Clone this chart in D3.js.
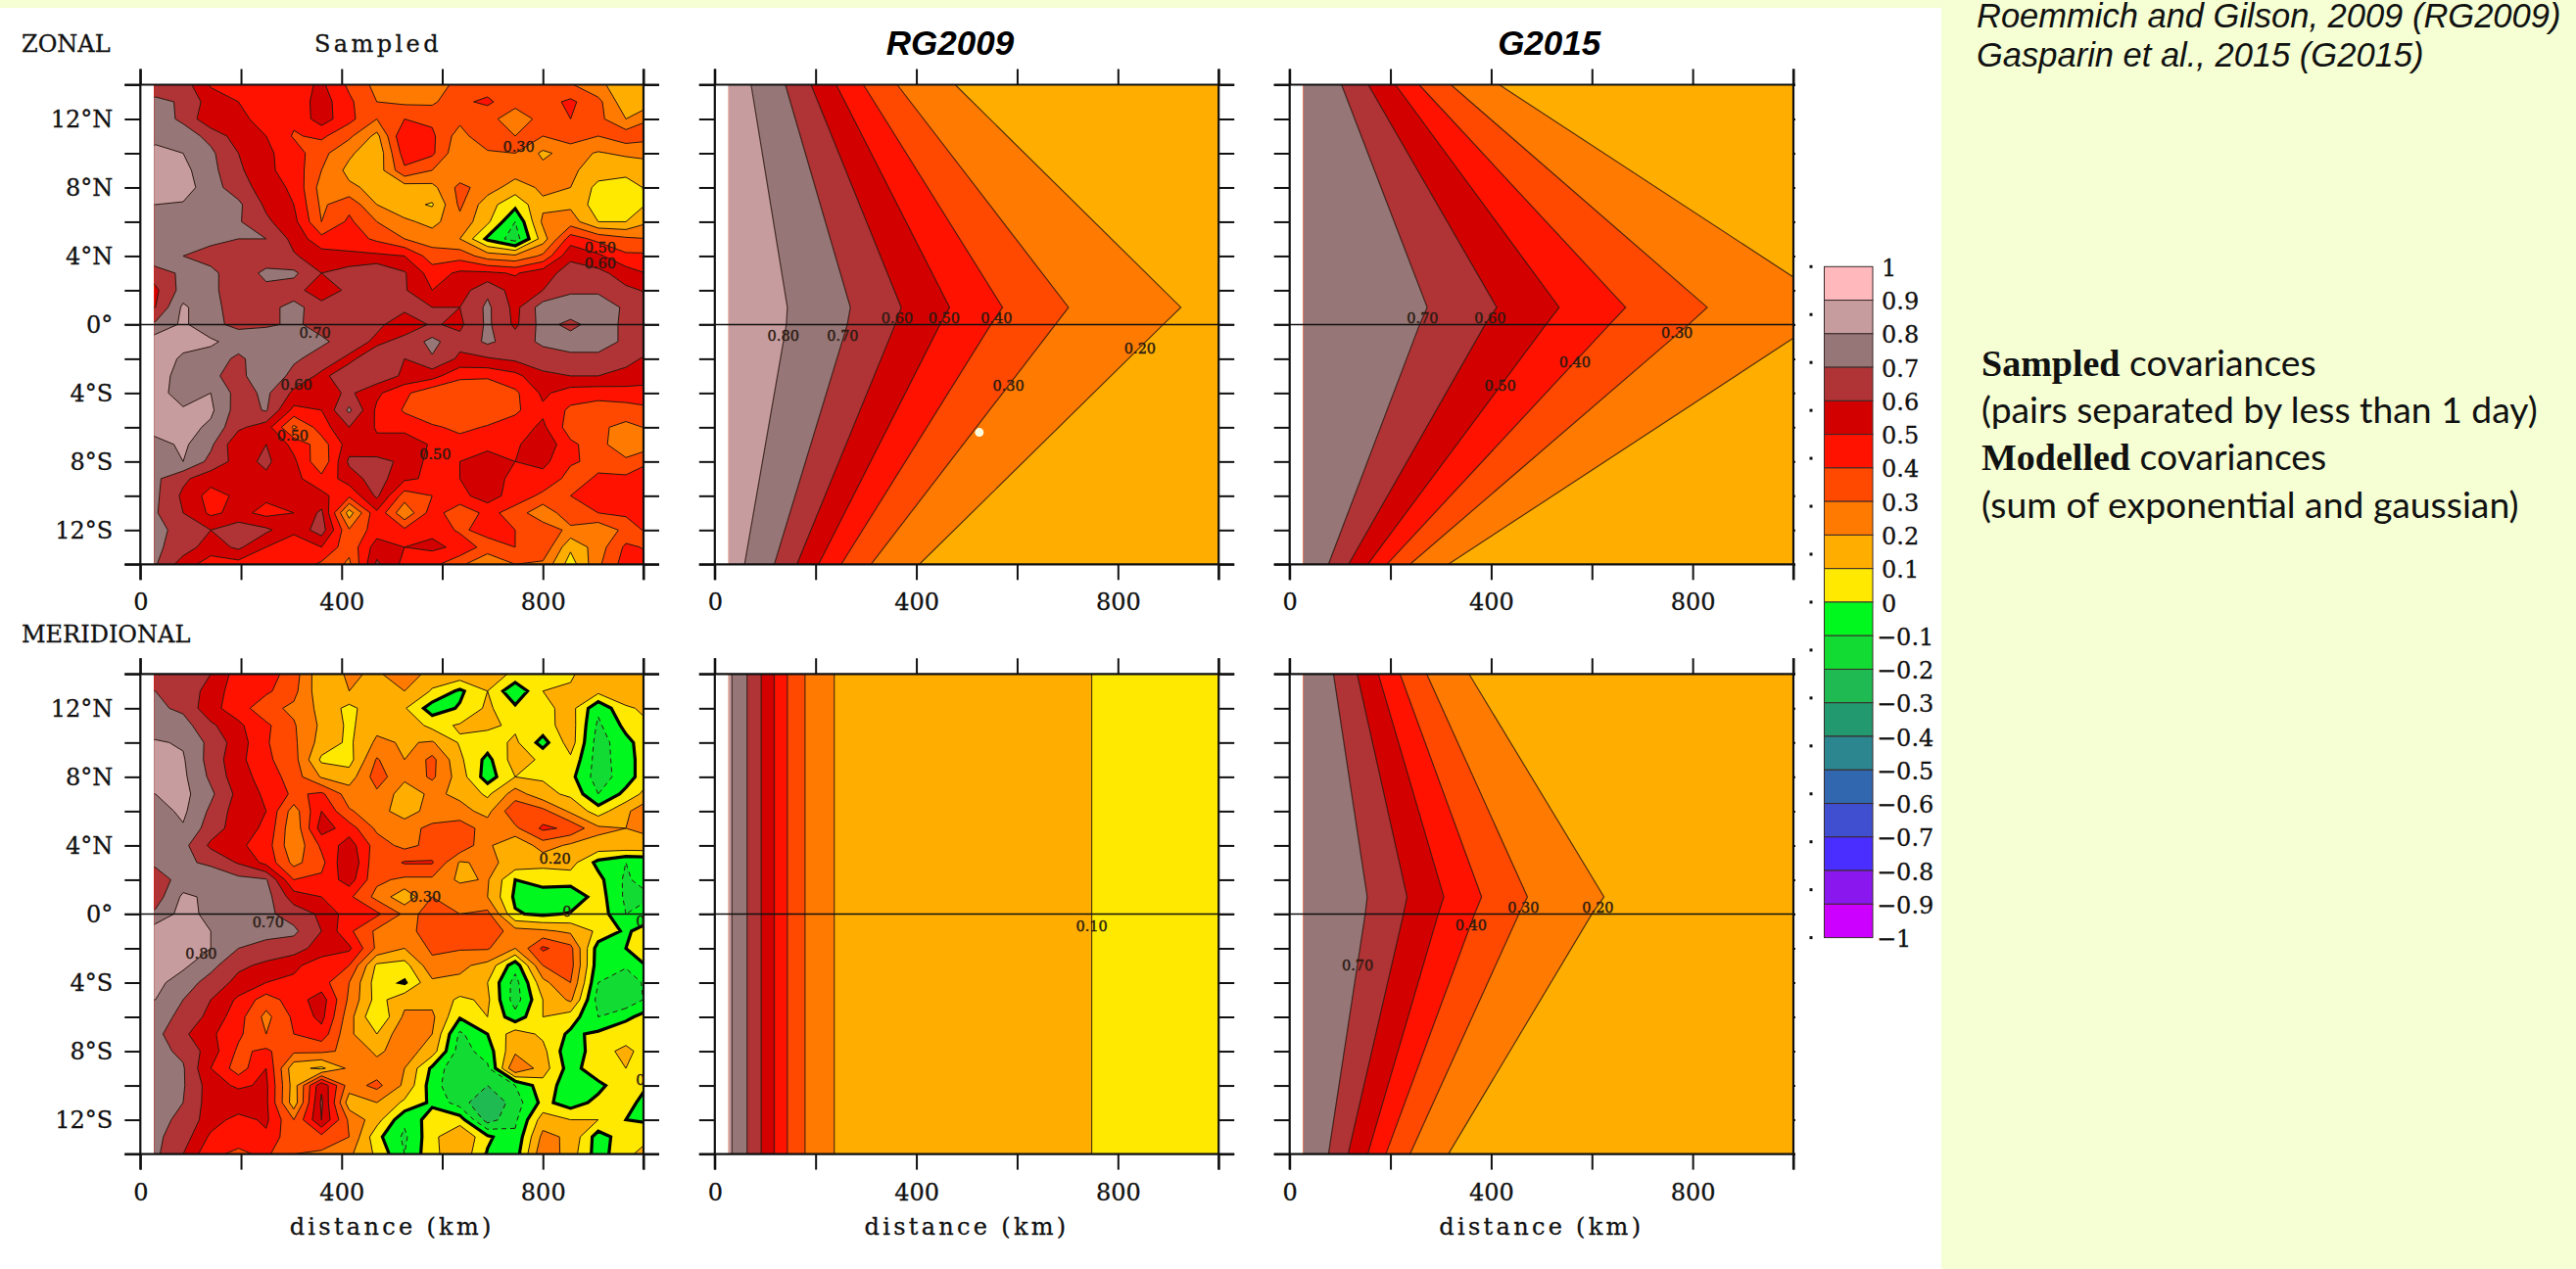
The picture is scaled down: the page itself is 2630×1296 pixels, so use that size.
<!DOCTYPE html>
<html>
<head>
<meta charset="utf-8">
<script src="https://cdn.jsdelivr.net/npm/d3@7"></script>
<style>
  html, body { margin: 0; padding: 0; background: #f5ffd3; overflow: hidden; }
  svg { display: block; }
  text { font-family: "DejaVu Serif", serif; fill: #111; }
  .axis path.domain { display: none; }
  .axis line { stroke: #111; stroke-width: 2px; }
  .axis text { font-family: "DejaVu Serif", serif; font-size: 24px; fill: #111; stroke: #111; stroke-width: .3px; }
  .plot-text { stroke: #111; stroke-width: .3px; }
</style>
</head>
<body>
<div id="chart"></div>
<script>
var width = 2630,
    height = 1296;

// sampled grids: one row per latitude from 14N to 14S, one value per distance bin
var gridDistances = [30, 85, 140, 195, 250, 305, 360, 415, 470, 525, 580, 635, 690, 745, 800, 855, 910, 965, 1020];
var gridLats = [14, 13, 12, 11, 10, 9, 8, 7, 6, 5, 4, 3, 2, 1, 0, -1, -2, -3, -4, -5, -6, -7, -8, -9, -10, -11, -12, -13, -14];

var zonalSampled = [
  [.65, .65, .49, .45, .45, .45, .52, .38, .27, .25, .25, .33, .35, .33, .33, .31, .22, .15, .20],
  [.72, .69, .55, .50, .45, .43, .55, .42, .30, .28, .28, .38, .42, .33, .36, .42, .33, .13, .18],
  [.75, .68, .52, .52, .47, .42, .55, .43, .30, .40, .38, .33, .33, .25, .33, .40, .33, .20, .30],
  [.78, .75, .67, .55, .50, .39, .42, .32, .17, .50, .42, .25, .40, .30, .30, .35, .30, .36, .33],
  [.82, .80, .72, .60, .52, .45, .33, .22, .12, .45, .42, .21, .28, .30, .18, .24, .19, .22, .22],
  [.83, .83, .73, .62, .52, .46, .30, .17, .14, .38, .30, .22, .30, .25, .23, .22, .15, .12, .17],
  [.85, .85, .74, .65, .55, .48, .26, .22, .17, .15, .17, .33, .25, .15, .22, .20, .07, .07, .12],
  [.80, .79, .72, .72, .58, .50, .28, .37, .20, .13, .09, .32, .14, .03, .18, .18, .05, .05, .12],
  [.78, .77, .73, .71, .62, .53, .30, .42, .30, .22, .17, .27, .12, -.10, .22, .25, .10, .10, .20],
  [.76, .74, .72, .70, .70, .57, .43, .45, .38, .30, .25, .20, -.02, -.15, .15, .45, .37, .32, .30],
  [.78, .70, .67, .65, .65, .61, .55, .52, .52, .50, .35, .36, .25, .22, .32, .58, .52, .42, .42],
  [.65, .72, .72, .65, .72, .72, .60, .65, .70, .61, .45, .52, .52, .49, .56, .64, .63, .55, .48],
  [.58, .74, .72, .65, .68, .65, .52, .63, .63, .61, .50, .55, .68, .55, .60, .68, .68, .62, .58],
  [.60, .82, .72, .67, .67, .73, .65, .65, .63, .62, .60, .60, .72, .57, .75, .77, .77, .68, .63],
  [.72, .82, .72, .68, .68, .72, .66, .63, .62, .55, .61, .58, .72, .58, .74, .67, .75, .68, .63],
  [.86, .84, .82, .75, .80, .76, .72, .65, .58, .63, .73, .63, .72, .65, .72, .75, .75, .68, .63],
  [.87, .78, .75, .68, .76, .72, .65, .58, .66, .60, .69, .58, .59, .62, .65, .67, .67, .62, .58],
  [.87, .74, .72, .66, .80, .66, .58, .65, .67, .58, .54, .42, .42, .47, .58, .60, .60, .58, .52],
  [.87, .72, .80, .66, .72, .58, .55, .62, .52, .42, .33, .33, .30, .38, .52, .45, .44, .45, .48],
  [.87, .82, .82, .65, .71, .47, .50, .72, .48, .39, .30, .33, .32, .38, .48, .38, .35, .36, .38],
  [.85, .84, .78, .62, .55, .28, .45, .60, .49, .45, .42, .37, .41, .45, .52, .35, .32, .27, .32],
  [.76, .82, .72, .52, .60, .47, .35, .55, .52, .60, .48, .45, .45, .48, .58, .42, .35, .20, .27],
  [.74, .80, .67, .56, .62, .52, .32, .62, .63, .58, .46, .50, .58, .50, .53, .41, .38, .33, .40],
  [.72, .62, .54, .52, .58, .53, .43, .55, .65, .52, .48, .50, .55, .47, .46, .37, .41, .42, .45],
  [.72, .58, .46, .52, .52, .50, .53, .42, .62, .35, .40, .47, .55, .45, .38, .40, .50, .45, .45],
  [.71, .60, .48, .53, .47, .50, .62, .15, .48, .22, .45, .33, .43, .36, .22, .38, .40, .42, .43],
  [.74, .65, .60, .66, .62, .53, .65, .31, .45, .42, .48, .38, .44, .40, .37, .27, .22, .33, .45],
  [.72, .65, .55, .62, .50, .42, .50, .33, .55, .50, .52, .48, .35, .40, .38, .12, .25, .42, .38],
  [.71, .55, .45, .46, .45, .47, .38, .28, .62, .47, .43, .32, .22, .30, .28, .05, .28, .45, .42]
];

var meridionalSampled = [
  [.65, .65, .60, .45, .45, .35, .12, .22, .18, .28, .15, .17, .15, .08, .01, .08, .20, .18, .18],
  [.70, .68, .55, .45, .42, .33, .13, .20, .18, .20, .09, -.02, .10, -.08, .10, .12, .13, .15, .15],
  [.72, .68, .53, .45, .33, .28, .17, .07, .17, .11, -.05, .01, .12, .02, .07, .14, -.08, .09, .12],
  [.75, .74, .62, .52, .42, .31, .18, .08, .17, .17, .07, .11, .12, .08, .06, .15, -.12, .03, .10],
  [.81, .79, .67, .55, .41, .32, .16, .08, .22, .19, .21, .09, .05, .12, -.04, .15, -.15, -.03, .08],
  [.85, .81, .66, .53, .42, .34, .08, .06, .31, .20, .33, .12, -.03, .15, .08, .08, -.15, -.04, .08],
  [.85, .82, .68, .54, .46, .35, .19, .15, .35, .22, .32, .15, -.05, .10, .09, .03, -.15, -.05, .10],
  [.80, .83, .72, .57, .48, .38, .42, .25, .28, .15, .22, .18, .08, .25, .13, .08, -.10, .03, .17],
  [.76, .82, .68, .55, .50, .25, .50, .31, .25, .14, .25, .23, .17, .38, .33, .18, .05, .18, .30],
  [.76, .79, .65, .55, .48, .22, .55, .45, .28, .27, .32, .36, .25, .28, .42, .38, .22, .20, .22],
  [.77, .73, .58, .52, .45, .22, .42, .55, .35, .27, .33, .38, .22, .11, .25, .18, .17, .18, .18],
  [.72, .72, .68, .59, .47, .27, .37, .60, .32, .41, .41, .19, .22, .17, .13, .14, -.03, -.10, -.08],
  [.65, .74, .77, .73, .71, .40, .42, .55, .32, .28, .28, .18, .21, .00, .04, .05, .03, -.12, -.02],
  [.65, .82, .78, .80, .74, .55, .50, .42, .27, .13, .30, .28, .20, -.02, -.05, -.08, .05, -.12, -.10],
  [.72, .84, .77, .74, .72, .66, .58, .45, .42, .28, .32, .30, .33, .01, -.02, .01, .06, -.10, -.05],
  [.86, .84, .80, .72, .74, .72, .60, .42, .28, .24, .38, .33, .38, .24, .22, .18, .08, -.02, .08],
  [.87, .85, .80, .70, .66, .65, .55, .52, .28, .20, .32, .31, .31, .20, .42, .33, -.05, .00, .08],
  [.85, .82, .73, .62, .58, .52, .45, .40, .08, .06, .27, .22, .17, -.06, .30, .34, -.06, -.08, .03],
  [.83, .75, .66, .57, .50, .48, .44, .30, .05, -.01, .18, .18, .10, -.14, .17, .30, -.10, -.20, -.02],
  [.80, .70, .60, .48, .35, .45, .55, .28, .06, .17, .17, .08, .12, -.15, .10, .22, -.14, -.18, -.05],
  [.75, .67, .57, .44, .27, .42, .53, .24, .00, .22, .22, .01, .10, -.06, .10, .05, -.10, -.02, .05],
  [.73, .62, .52, .42, .30, .40, .46, .22, .10, .28, .20, -.12, .00, .15, .08, -.02, .02, .06, .00],
  [.73, .68, .55, .38, .42, .32, .32, .28, .18, .25, .15, -.15, -.05, .18, .13, -.08, .07, .12, .05],
  [.72, .71, .50, .35, .50, .13, .08, .22, .24, .20, -.02, -.20, -.12, .30, .15, -.05, .08, .10, .02],
  [.71, .71, .55, .48, .52, .15, .58, .25, .33, .18, -.05, -.20, -.20, -.10, .06, -.06, -.03, .08, -.02],
  [.71, .70, .55, .58, .52, .14, .62, .14, .20, .08, -.02, -.15, -.30, -.15, .03, -.05, .03, .03, -.05],
  [.74, .67, .55, .46, .52, .30, .60, .28, .14, -.08, .05, .05, -.25, -.12, .15, .10, .10, .00, -.03],
  [.72, .65, .48, .44, .48, .32, .37, .30, .03, -.12, .07, .20, .02, -.08, .23, .18, -.05, .06, .10],
  [.72, .60, .42, .38, .42, .30, .28, .22, .08, -.10, .07, .18, -.01, -.05, .28, .15, -.05, .08, .15]
];

// modelled contours: distance (km) where each level crosses 14N, 1N, 0, 14S
var modelLats = [14, 1, 0, -14];
var modelLevels = [.8, .7, .6, .5, .4, .3, .2, .1];
var rgZonal = [[72, 144, 142, 59], [140, 269, 263, 118], [191, 370, 358, 163], [241, 466, 447, 206], [295, 571, 548, 251], [362, 702, 676, 310], [477, 925, 890, 406]];
var g2015Zonal = [null, [103, 273, 258, 77], [156, 411, 388, 117], [210, 535, 509, 155], [257, 667, 635, 193], [320, 829, 792, 239], [416, 1092, 1041, 315]];
var rgMeridional = [[34, 34, 34, 34], [64, 64, 64, 64], [92, 92, 92, 92], [118, 118, 118, 118], [144, 144, 144, 144], [179, 179, 179, 179], [237, 237, 237, 237], [748, 748, 748, 748]];
var g2015Meridional = [null, [87, 154, 150, 77], [134, 233, 226, 116], [176, 306, 295, 155], [219, 381, 367, 191], [272, 472, 455, 239], [356, 624, 600, 315]];

// contour labels: distance, latitude, text
var zonalLabels = [[752, 10.4, "0.30"], [914, 4.5, "0.50"], [914, 3.6, "0.60"], [347, -.47, "0.70"], [310, -3.5, "0.60"], [303, -6.5, "0.50"], [586, -7.6, "0.50"]];
var meridionalLabels = [[824, 3.25, "0.20"], [566, 1, "0.30"], [254, -.5, "0.70"], [121, -2.3, "0.80"], [848, .17, "0"], [994, -.4, "0"], [994, -9.7, "0"]];
var rgZonalLabels = [[136, -.68, "0.80"], [254, -.68, "0.70"], [362, .35, "0.60"], [455, .35, "0.50"], [559, .35, "0.40"], [583, -3.6, "0.30"], [844, -1.4, "0.20"]];
var g2015ZonalLabels = [[264, .35, "0.70"], [398, .35, "0.60"], [418, -3.6, "0.50"], [566, -2.2, "0.40"], [769, -.5, "0.30"]];
var rgMeridionalLabels = [[748, -.7, "0.10"]];
var g2015MeridionalLabels = [[135, -3, "0.70"], [360, -.67, "0.40"], [464, .4, "0.30"], [612, .4, "0.20"]];

// colour bar, top band (0.9 to 1) first
var bandColors = ["#ffb8bc", "#c79c9f", "#967676", "#b03335", "#d30000", "#ff1200", "#ff4800", "#ff7a00", "#ffae00", "#ffe900",
                  "#00f81f", "#12dc33", "#1fbb52", "#22996f", "#2b8690", "#3067ae", "#3f4fd0", "#4a2dff", "#8a18ee", "#cc00ff"];
var legendLabels = ["1", "0.9", "0.8", "0.7", "0.6", "0.5", "0.4", "0.3", "0.2", "0.1", "0", "\u22120.1", "\u22120.2", "\u22120.3", "\u22120.4", "\u22120.5", "\u22120.6", "\u22120.7", "\u22120.8", "\u22120.9", "\u22121"];
var legendValues = d3.range(10, -11, -1).map(function(d) {return d / 10;});
var legendDots = d3.range(0, 15).map(function(d) {return 1 - d / 7;});

var startDistance = 27.5;
var xTicks = d3.range(0, 1001, 200);
var yTicks = d3.range(-14, 15, 2);
var dotDistance = [525], dotLat = [-6.3];

function bandColor(level) {
    return bandColors[Math.round((.9 - level) * 10)];
}

var panels = [
    {id: "a", left: 143.3, right: 657, top: 86.5, bottom: 576.3, grid: zonalSampled, labels: zonalLabels, yLabels: true},
    {id: "b", left: 729.8, right: 1244.2, top: 86.5, bottom: 576.3, model: rgZonal, base: .1, labels: rgZonalLabels, dot: true},
    {id: "c", left: 1316.7, right: 1831, top: 86.5, bottom: 576.3, model: g2015Zonal, base: .1, labels: g2015ZonalLabels, shortRight: true},
    {id: "d", left: 143.3, right: 657, top: 688.3, bottom: 1178.6, grid: meridionalSampled, labels: meridionalLabels, yLabels: true, xTitle: true},
    {id: "e", left: 729.8, right: 1244.2, top: 688.3, bottom: 1178.6, model: rgMeridional, base: 0, labels: rgMeridionalLabels, xTitle: true},
    {id: "f", left: 1316.7, right: 1831, top: 688.3, bottom: 1178.6, model: g2015Meridional, base: .1, labels: g2015MeridionalLabels, shortRight: true, xTitle: true}
];

var svg = d3.select("#chart").append("svg")
    .attr("width", width)
    .attr("height", height);

svg.append("rect")
    .attr("x", 0).attr("y", 8)
    .attr("width", 1982).attr("height", height - 8)
    .attr("fill", "white");

panels.forEach(function(p) {
    var x = d3.scaleLinear().domain([0, 1000]).range([p.left, p.right]);
    var y = d3.scaleLinear().domain([14, -14]).range([p.top, p.bottom]);

    svg.append("clipPath")
        .attr("id", "clip-" + p.id)
        .append("rect")
        .attr("x", x(startDistance))
        .attr("y", p.top)
        .attr("width", x(1000) - x(startDistance))
        .attr("height", p.bottom - p.top);

    var g = svg.append("g").attr("clip-path", "url(#clip-" + p.id + ")");

    if (p.grid) {
        drawSampled(g, p, x, y);
    } else {
        drawModel(g, p, x, y);
    }

    drawAxes(p, x, y);

    if (p.dot) {
        svg.append("circle")
            .attr("cx", x(dotDistance[0])).attr("cy", y(dotLat[0])).attr("r", 4.5)
            .attr("fill", "#fdfde0");
    }

    svg.append("g").selectAll("text")
        .data(p.labels)
        .enter().append("text")
        .attr("x", function(d) {return x(d[0]);})
        .attr("y", function(d) {return y(d[1]);})
        .attr("dy", "0.35em")
        .attr("text-anchor", "middle")
        .style("font-size", "14.5px")
        .style("fill", "#2a1a12")
        .style("stroke", "#2a1a12")
        .style("stroke-width", ".4px")
        .text(function(d) {return d[2];});
});

function drawSampled(g, p, x, y) {
    var values = d3.merge(p.grid);
    var thresholds = d3.range(-10, 10).map(function(d) {return d / 10;});
    var contours = d3.contours()
        .size([gridDistances.length, gridLats.length])
        .thresholds(thresholds)(values);

    // grid cell centres sit at i + 0.5 in contour coordinates
    var path = d3.geoPath(d3.geoTransform({
        point: function(cx, cy) {
            this.stream.point(x(gridDistances[0] + 55 * (cx - .5)), y(gridLats[0] - (cy - .5)));
        }
    }));

    g.selectAll("path.band")
        .data(contours)
        .enter().append("path")
        .attr("class", "band")
        .attr("d", path)
        .attr("fill", function(d) {return bandColor(d.value);})
        .attr("stroke", function(d) {return Math.abs(d.value) < 1e-6 ? "#000" : "#2a1810";})
        .attr("stroke-width", function(d) {return Math.abs(d.value) < 1e-6 ? 3.2 : 1;})
        .attr("stroke-dasharray", function(d) {return d.value < -1e-6 ? "5,4" : null;});
}

function drawModel(g, p, x, y) {
    g.append("rect")
        .attr("x", x(0)).attr("y", p.top)
        .attr("width", x(1000) - x(0)).attr("height", p.bottom - p.top)
        .attr("fill", bandColor(p.base));

    var area = d3.area()
        .x0(x(0))
        .x1(function(d) {return x(d[0]);})
        .y(function(d) {return y(d[1]);});
    var line = d3.line()
        .x(function(d) {return x(d[0]);})
        .y(function(d) {return y(d[1]);});

    // lowest level first so that the higher bands paint over it
    d3.range(modelLevels.length - 1, -1, -1).forEach(function(i) {
        var crossings = p.model[i];
        if (!crossings) return;
        var pts = crossings.map(function(d, k) {return [d, modelLats[k]];});
        g.append("path").attr("d", area(pts)).attr("fill", bandColor(modelLevels[i]));
        g.append("path").attr("d", line(pts)).attr("fill", "none")
            .attr("stroke", "#2a1810").attr("stroke-width", 1.2).attr("stroke-opacity", .8);
    });
}

function drawAxes(p, x, y) {
    var tick = 16;

    svg.append("g").attr("class", "axis")
        .attr("transform", "translate(0," + p.top + ")")
        .call(d3.axisTop(x).tickValues(xTicks).tickSize(tick).tickSizeOuter(0).tickFormat(""));

    svg.append("g").attr("class", "axis")
        .attr("transform", "translate(0," + p.bottom + ")")
        .call(d3.axisBottom(x).tickValues(xTicks).tickSize(tick).tickSizeOuter(0).tickPadding(14)
            .tickFormat(function(d) {return d % 400 === 0 ? d : "";}));

    svg.append("g").attr("class", "axis")
        .attr("transform", "translate(" + p.left + ",0)")
        .call(d3.axisLeft(y).tickValues(yTicks).tickSize(tick).tickSizeOuter(0).tickPadding(12)
            .tickFormat(function(d) {
                if (!p.yLabels || d % 4 !== 0 || Math.abs(d) > 12) return "";
                return d === 0 ? "0\u00b0" : Math.abs(d) + "\u00b0" + (d > 0 ? "N" : "S");
            }));

    svg.append("g").attr("class", "axis")
        .attr("transform", "translate(" + p.right + ",0)")
        .call(d3.axisRight(y).tickValues(yTicks).tickSize(p.shortRight ? 2 : tick).tickSizeOuter(0).tickFormat(""));

    var frame = svg.append("g").attr("stroke", "#111");
    // outer horizontal lines run through the side ticks, the verticals through the end ticks
    [14, 0, -14].forEach(function(lat) {
        frame.append("line")
            .attr("x1", p.left - tick).attr("x2", p.right + (p.shortRight ? 2 : tick))
            .attr("y1", y(lat)).attr("y2", y(lat))
            .attr("stroke-width", lat === 0 ? 1.5 : 2.2);
    });
    [0, 1000].forEach(function(km) {
        frame.append("line")
            .attr("x1", x(km)).attr("x2", x(km))
            .attr("y1", p.top - tick).attr("y2", p.bottom + tick)
            .attr("stroke-width", 2.2);
    });

    if (p.xTitle) {
        svg.append("text")
            .attr("class", "plot-text")
            .attr("x", (p.left + p.right) / 2)
            .attr("y", 1261)
            .attr("text-anchor", "middle")
            .style("font-size", "24px")
            .style("letter-spacing", "3.3px")
            .text("distance (km)");
    }
}

// panel headings
svg.append("text").attr("class", "plot-text").attr("x", 22).attr("y", 53).style("font-size", "24px").text("ZONAL");
svg.append("text").attr("class", "plot-text").attr("x", 22).attr("y", 656).style("font-size", "24px").text("MERIDIONAL");
svg.append("text").attr("class", "plot-text").attr("x", 386).attr("y", 53).attr("text-anchor", "middle")
    .style("font-size", "24px").style("letter-spacing", "3.4px").text("Sampled");
svg.selectAll("text.model-title")
    .data([["RG2009", 970], ["G2015", 1581.7]])
    .enter().append("text")
    .attr("class", "model-title")
    .attr("x", function(d) {return d[1];})
    .attr("y", 56)
    .attr("text-anchor", "middle")
    .style("font-family", "'Liberation Sans', sans-serif")
    .style("font-style", "italic")
    .style("font-weight", "bold")
    .style("font-size", "35px")
    .style("fill", "#000")
    .text(function(d) {return d[0];});

// colour bar
var legendY = d3.scaleLinear().domain([1, -1]).range([272.3, 957.6]);
var legend = svg.append("g");
legend.selectAll("rect.band")
    .data(bandColors)
    .enter().append("rect")
    .attr("class", "band")
    .attr("x", 1862.5)
    .attr("y", function(d, i) {return legendY(legendValues[i]);})
    .attr("width", 49.5)
    .attr("height", function(d, i) {return legendY(legendValues[i + 1]) - legendY(legendValues[i]);})
    .attr("fill", function(d) {return d;})
    .attr("stroke", "#3a2a2a")
    .attr("stroke-width", 1);
legend.selectAll("text")
    .data(legendLabels)
    .enter().append("text")
    .attr("class", "plot-text")
    .attr("x", function(d) {return d.charAt(0) === "\u2212" ? 1916 : 1921;})
    .attr("y", function(d, i) {return legendY(legendValues[i]);})
    .attr("dy", "0.4em")
    .style("font-size", "24px")
    .text(function(d) {return d;});
legend.selectAll("rect.dot")
    .data(legendDots)
    .enter().append("rect")
    .attr("class", "dot")
    .attr("x", 1847.5)
    .attr("y", function(d) {return legendY(d) - 1.5;})
    .attr("width", 3).attr("height", 3)
    .attr("fill", "#111");

// side notes
var notes = svg.append("g");
[["Roemmich and Gilson, 2009 (RG2009)", 28], ["Gasparin et al., 2015 (G2015)", 68]].forEach(function(d) {
    notes.append("text").attr("x", 2018).attr("y", d[1])
        .style("font-family", "'Liberation Sans', sans-serif")
        .style("font-style", "italic")
        .style("font-size", "34.5px")
        .style("fill", "#111")
        .text(d[0]);
});
[["Sampled", " covariances", 384], ["", "(pairs separated by less than 1 day)", 432], ["Modelled", " covariances", 480], ["", "(sum of exponential and gaussian)", 529]].forEach(function(d) {
    var t = notes.append("text").attr("x", 2023).attr("y", d[2]);
    if (d[0]) {
        t.append("tspan")
            .style("font-family", "'Liberation Serif', serif")
            .style("font-weight", "bold")
            .style("font-size", "38px")
            .style("fill", "#111")
            .text(d[0]);
    }
    t.append("tspan")
        .attr("xml:space", "preserve")
        .style("font-family", "Lato, sans-serif")
        .style("font-size", "37.3px")
        .style("fill", "#111")
        .text(d[1]);
});
</script>
</body>
</html>
